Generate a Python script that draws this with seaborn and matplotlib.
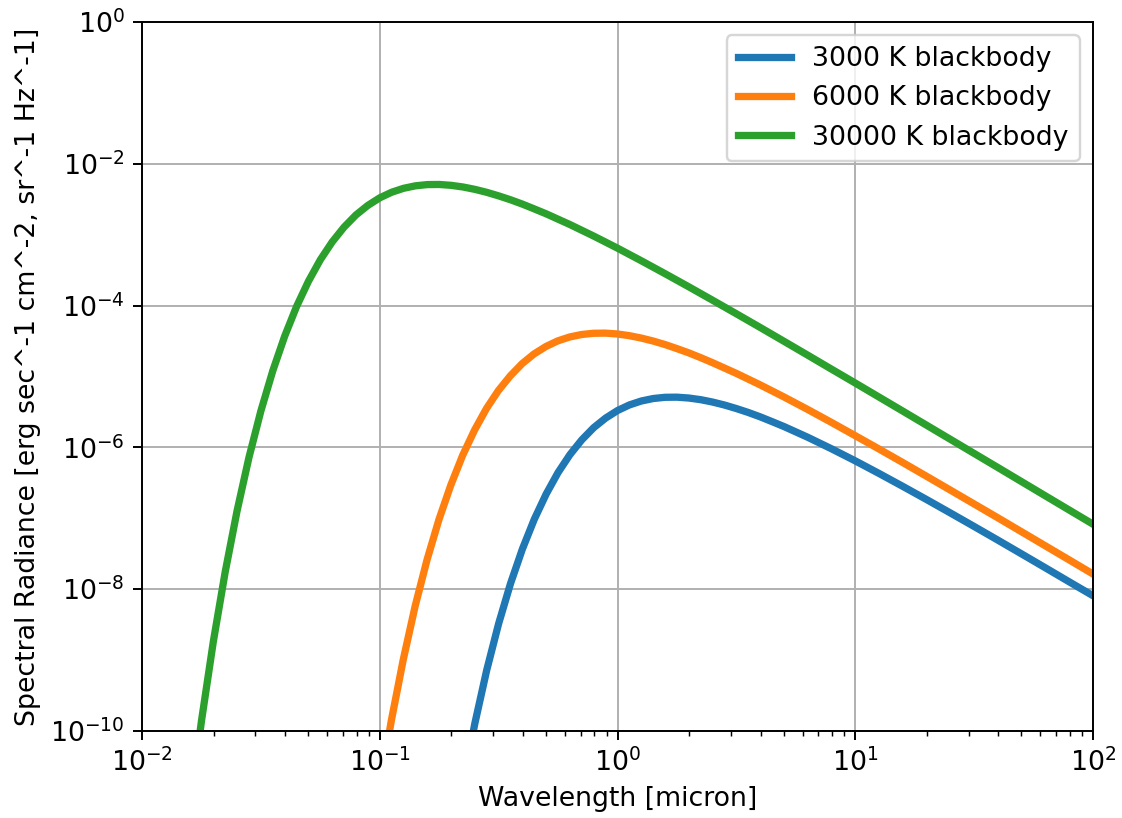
import pandas as pd
import numpy as np
import matplotlib
matplotlib.use('Agg')
import matplotlib.pyplot as plt
import seaborn as sns

# wavelength [micron] and spectral radiance
wl_3000 = [0.2239, 0.2512, 0.2818, 0.3162, 0.3548, 0.3981, 0.4467, 0.5012, 0.5623, 0.6310,
           0.7079, 0.7943, 0.8913, 1.0, 1.122, 1.259, 1.413, 1.585, 1.778, 1.995,
           2.239, 2.512, 2.818, 3.162, 3.548, 3.981, 4.467, 5.012, 6.310, 7.943,
           10.0, 12.59, 15.85, 19.95, 25.12, 31.62, 39.81, 50.12, 63.10, 79.43,
           100.0]
rad_3000 = [1.76e-11, 1.28e-10, 7.23e-10, 3.26e-9, 1.20e-8, 3.69e-8, 9.69e-8, 2.20e-7, 4.42e-7, 7.91e-7,
            1.28e-6, 1.90e-6, 2.59e-6, 3.31e-6, 3.97e-6, 4.51e-6, 4.89e-6, 5.09e-6, 5.11e-6, 4.97e-6,
            4.71e-6, 4.36e-6, 3.96e-6, 3.53e-6, 3.11e-6, 2.70e-6, 2.31e-6, 1.97e-6, 1.39e-6, 9.56e-7,
            6.46e-7, 4.29e-7, 2.82e-7, 1.84e-7, 1.19e-7, 7.67e-8, 4.92e-8, 3.14e-8, 2.00e-8, 1.27e-8,
            8.09e-9]

wl_6000 = [0.09976, 0.1119, 0.1256, 0.1409, 0.1581, 0.1774, 0.1991, 0.2233, 0.2506, 0.2812,
           0.3155, 0.3540, 0.3972, 0.4456, 0.5, 0.5610, 0.6295, 0.7063, 0.7924, 0.8891,
           0.9976, 1.119, 1.256, 1.409, 1.581, 1.774, 1.991, 2.233, 2.506, 3.155,
           3.972, 5.0, 6.295, 7.924, 9.976, 12.56, 15.81, 19.91, 25.06, 31.55,
           39.72, 50.0, 79.24, 125.6]
rad_6000 = [1.46e-11, 1.41e-10, 1.02e-9, 5.78e-9, 2.60e-8, 9.59e-8, 2.95e-7, 7.75e-7, 1.76e-6, 3.54e-6,
            6.33e-6, 1.02e-5, 1.52e-5, 2.08e-5, 2.65e-5, 3.18e-5, 3.61e-5, 3.91e-5, 4.07e-5, 4.09e-5,
            3.98e-5, 3.77e-5, 3.49e-5, 3.17e-5, 2.83e-5, 2.48e-5, 2.16e-5, 1.85e-5, 1.57e-5, 1.11e-5,
            7.65e-6, 5.17e-6, 3.44e-6, 2.26e-6, 1.47e-6, 9.53e-7, 6.14e-7, 3.93e-7, 2.51e-7, 1.60e-7,
            1.02e-7, 6.47e-8, 2.60e-8, 1.04e-8]

wl_30000 = [0.01585, 0.01778, 0.01995, 0.02239, 0.02512, 0.02818, 0.03162, 0.03548, 0.03981, 0.04467,
            0.05012, 0.05623, 0.06310, 0.07079, 0.07943, 0.08913, 0.1, 0.1122, 0.1259, 0.1413,
            0.1585, 0.1778, 0.1995, 0.2239, 0.2512, 0.2818, 0.3162, 0.3548, 0.3981, 0.4467,
            0.5012, 0.6310, 0.7943, 1.0, 1.259, 1.585, 1.995, 2.512, 3.162, 3.981,
            5.012, 6.310, 7.943, 10.0, 15.85, 25.12, 39.81, 63.10, 100.0]
rad_30000 = [7.20e-12, 1.37e-10, 1.82e-9, 1.76e-8, 1.28e-7, 7.23e-7, 3.26e-6, 1.20e-5, 3.69e-5, 9.69e-5,
             2.20e-4, 4.42e-4, 7.91e-4, 1.28e-3, 1.90e-3, 2.59e-3, 3.31e-3, 3.97e-3, 4.51e-3, 4.89e-3,
             5.09e-3, 5.11e-3, 4.97e-3, 4.71e-3, 4.36e-3, 3.96e-3, 3.53e-3, 3.11e-3, 2.70e-3, 2.31e-3,
             1.97e-3, 1.39e-3, 9.56e-4, 6.46e-4, 4.29e-4, 2.82e-4, 1.84e-4, 1.19e-4, 7.67e-5, 4.92e-5,
             3.14e-5, 2.00e-5, 1.27e-5, 8.09e-6, 3.25e-6, 1.30e-6, 5.20e-7, 2.07e-7, 8.26e-8]

labels = ['3000 K blackbody', '6000 K blackbody', '30000 K blackbody']
colors = ['#1f77b4', '#ff7f0e', '#2ca02c']

curves = [(wl_3000, rad_3000), (wl_6000, rad_6000), (wl_30000, rad_30000)]

plt.rcParams['font.size'] = 11

fig = plt.figure(figsize=(1122 / 175, 818 / 175), dpi=175)
ax = fig.add_axes([142 / 1122, 1 - 731 / 818, (1093 - 142) / 1122, (731 - 22) / 818])

for (wl, rad), lab, col in zip(curves, labels, colors):
    df = pd.DataFrame({'wavelength': wl, 'radiance': rad})
    sns.lineplot(x='wavelength', y='radiance', data=df, ax=ax, label=lab, color=col,
                 linewidth=3, estimator=None, sort=False)

ax.set_xscale('log')
ax.set_yscale('log')
ax.set_xlim(1e-2, 1e2)
ax.set_ylim(1e-10, 1)
ax.grid(True, which='major')
ax.set_xlabel('Wavelength [micron]')
ax.set_ylabel('Spectral Radiance [erg sec^-1 cm^-2, sr^-1 Hz^-1]')
ax.legend(loc='upper right')

fig.savefig('out.png', dpi=175)
